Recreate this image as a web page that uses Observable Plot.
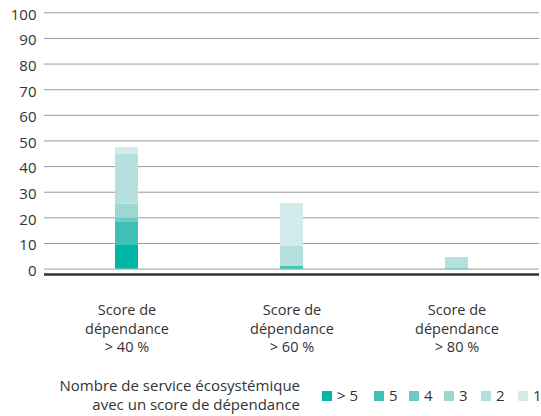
<!DOCTYPE html>
<html>
<head>
<meta charset="utf-8">
<script src="https://cdn.jsdelivr.net/npm/d3@7"></script>
<script src="https://cdn.jsdelivr.net/npm/@observablehq/plot@0.6"></script>
<style>
  html, body { margin: 0; padding: 0; background: #fff; }
  body { width: 541px; height: 416px; overflow: hidden; font-family: "Open Sans", sans-serif; color: #333; }
  #chart { position: relative; width: 541px; height: 370px; }
  #legend { position: relative; width: 541px; height: 46px; font-size: 15px; color: #333; }
  #legend .title { position: absolute; right: 241px; top: 6px; text-align: right; line-height: 19px; }
  #legend .item { position: absolute; top: 16px; display: flex; align-items: center; line-height: 19px; }
  #legend .sw { width: 10px; height: 10px; margin-right: 5px; }
</style>
</head>
<body>
<div id="chart"></div>
<div id="legend"></div>
<script>
// Categories (x axis)
const categories = ["Score de dépendance > 40 %", "Score de dépendance > 60 %", "Score de dépendance > 80 %"];
const categoryLabels = ["Score de\ndépendance\n> 40 %", "Score de\ndépendance\n> 60 %", "Score de\ndépendance\n> 80 %"];
// Series (number of ecosystem services), stacked from bottom to top
const series = ["> 5", "5", "4", "3", "2", "1"];
const seriesColors = ["#00b5a5", "#40c0b5", "#6fcac2", "#9dd7d2", "#b5e0dd", "#d3ebeb"];
// Values per series, one per category
const valGt5 = [9.2, 0.3, 0];
const val5   = [9.0, 0.8, 0.4];
const val4   = [1.7, 0, 0];
const val3   = [5.4, 0, 0];
const val2   = [19.4, 7.7, 4.1];
const val1   = [2.7, 16.8, 0];
const yTicks = [0, 10, 20, 30, 40, 50, 60, 70, 80, 90, 100];
const legendTitle = ["Nombre de service écosystémique", "avec un score de dépendance"];

const seriesValues = [valGt5, val5, val4, val3, val2, val1];
const data = [];
series.forEach((s, i) => {
  categories.forEach((c, j) => {
    data.push({category: c, series: s, value: seriesValues[i][j]});
  });
});

const chart = Plot.plot({
  width: 541,
  height: 370,
  marginTop: 12.3,
  marginBottom: 101.4,
  marginLeft: 44,
  marginRight: 2,
  style: {fontFamily: "Open Sans, sans-serif", fontSize: "15px", color: "#333", background: "#fff"},
  x: {domain: categories, padding: 0, label: null},
  y: {domain: [0, 100], label: null},
  color: {domain: series, range: seriesColors},
  marks: [
    Plot.gridY(yTicks, {stroke: "#9a9a9a", strokeOpacity: 1, strokeWidth: 1}),
    Plot.axisY(yTicks, {tickSize: 0, tickPadding: 8, label: null, fontSize: 15, fill: "#333", dy: 2}),
    Plot.axisX({tickSize: 0, tickPadding: 33, label: null, fontSize: 14.5, fill: "#333", lineHeight: 1.28,
      tickFormat: (d) => categoryLabels[categories.indexOf(d)]}),
    Plot.barY(data, Plot.stackY({order: null}, {
      x: "category", y: "value", fill: "series", insetLeft: 71, insetRight: 71
    })),
    Plot.ruleY([0], {stroke: "#333", strokeWidth: 2.5, dy: 5.5})
  ]
});
document.getElementById("chart").appendChild(chart);

// Legend built from the same series/colour arrays
const legend = document.getElementById("legend");
const title = document.createElement("div");
title.className = "title";
title.innerHTML = legendTitle.join("<br>");
legend.appendChild(title);
const itemX = [322, 374, 409, 444, 481, 518];
series.forEach((s, i) => {
  const it = document.createElement("div");
  it.className = "item";
  it.style.left = itemX[i] + "px";
  const sw = document.createElement("span");
  sw.className = "sw";
  sw.style.background = seriesColors[i];
  const lab = document.createElement("span");
  lab.textContent = s;
  it.appendChild(sw);
  it.appendChild(lab);
  legend.appendChild(it);
});
</script>
</body>
</html>
